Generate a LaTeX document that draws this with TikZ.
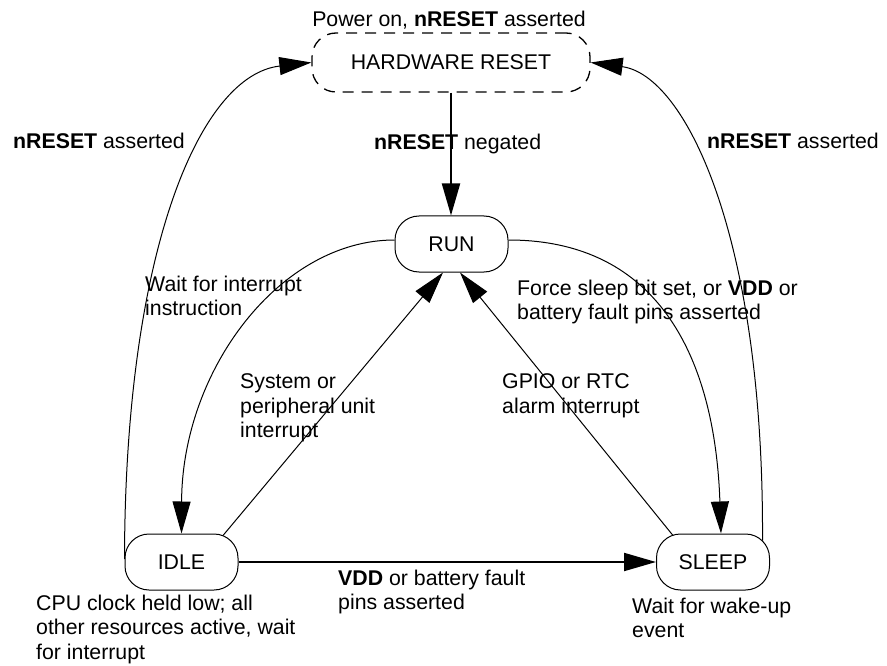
\documentclass[tikz,border=0pt]{standalone}
\usepackage{fontspec}
\setmainfont{Liberation Sans}
\usetikzlibrary{arrows.meta,positioning}

\tikzset{
  state/.style={draw, rounded corners=24pt, minimum width=113pt, minimum height=56pt, line width=1pt, inner sep=0pt},
  resetbox/.style={state, dash pattern=on 11pt off 8pt, minimum width=278pt, minimum height=59pt, line width=1.3pt},
  trans/.style={line width=1pt, -{Triangle[length=32pt,width=18pt]}},
  thicktrans/.style={trans, line width=2pt},
  lbl/.style={align=left, anchor=west, inner sep=0pt}
}

\begin{document}
\begin{tikzpicture}[x=1pt, y=-1pt, font=\fontsize{21.3}{24.5}\selectfont]
    \useasboundingbox (0,0) rectangle (887,666);

    \node[resetbox] (hw) at (451,62.5) {HARDWARE RESET};
    \node[state] (run) at (451.5,244) {RUN};
    \node[state] (idle) at (181.5,562) {IDLE};
    \node[state] (sleep) at (713,562) {SLEEP};

    \node (poweron) at (449,20) {Power on, \textbf{nRESET} asserted};
    \node[lbl] (resetl) at (13,141) {\textbf{nRESET} asserted};
    \node[lbl] (resetr) at (707,141) {\textbf{nRESET} asserted};
    \node[lbl] (negated) at (374,144) {\textbf{nRESET} negated};
    \node[lbl] (wfi) at (145,296) {Wait for interrupt\\instruction};
    \node[lbl] (sysint) at (240,408) {System or\\peripheral unit\\interrupt};
    \node[lbl] (force) at (517,302) {Force sleep bit set, or \textbf{VDD} or\\battery fault pins asserted};
    \node[lbl] (gpio) at (502,396) {GPIO or RTC\\alarm interrupt};
    \node[lbl] (vdd) at (338,592) {\textbf{VDD} or battery fault\\pins asserted};
    \node[lbl] (cpu) at (36,629) {CPU clock held low; all\\other resources active, wait\\for interrupt};
    \node[lbl] (wake) at (632,618) {Wait for wake-up\\event};

    \draw[thicktrans] (hw.south) -- (hw.south |- run.north);
    \draw[thicktrans] (idle) -- (sleep);
    \draw[trans] ([yshift=3pt]idle.west) .. controls (125,250) and (200,75) .. (hw.west);
    \draw[trans] ([xshift=49.5pt,yshift=-7pt]sleep.north) .. controls (764,235) and (685,75) .. (hw.east);
    \draw[trans] ([yshift=4pt]run.west) .. controls (280,240) and (182,370) .. (idle.north);
    \draw[trans] ([yshift=4pt]run.east) .. controls (660,240) and (715,360) .. ([xshift=8pt]sleep.north);
    \draw[trans] ([xshift=41.5pt,yshift=-2pt]idle.north) -- ([xshift=-8.5pt]run.south);
    \draw[trans] ([xshift=-40pt,yshift=-2pt]sleep.north) -- ([xshift=8.5pt]run.south);
\end{tikzpicture}
\end{document}
